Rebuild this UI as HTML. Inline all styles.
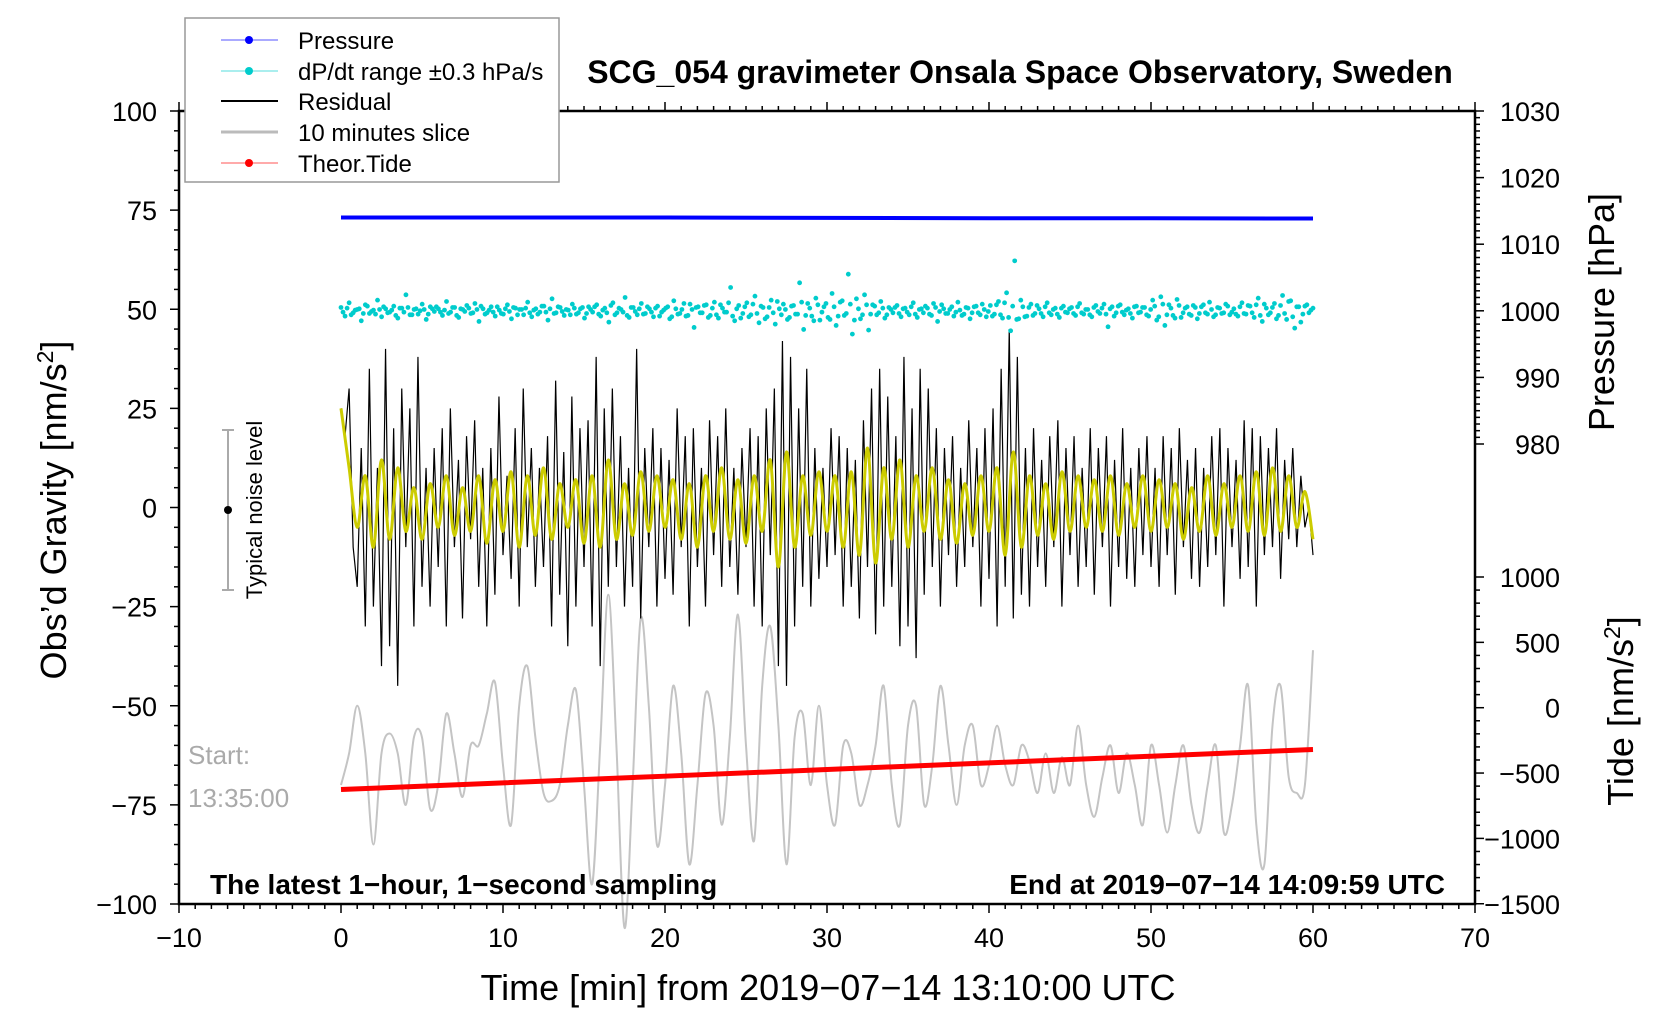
<!DOCTYPE html>
<html><head><meta charset="utf-8"><style>
html,body{margin:0;padding:0;background:#fff}
svg{display:block;font-family:"Liberation Sans",sans-serif}
</style></head><body>
<svg id="chart" width="1676" height="1020" viewBox="0 0 1676 1020" xmlns="http://www.w3.org/2000/svg">
<rect width="1676" height="1020" fill="#fff"/>
<g id="marks"></g>
<g id="axes"></g>
<text x="1020" y="83" font-size="32" font-weight="bold" text-anchor="middle">SCG_054 gravimeter Onsala Space Observatory, Sweden</text>
<text x="828" y="1000" font-size="36" text-anchor="middle">Time [min] from 2019−07−14 13:10:00 UTC</text>
<text transform="translate(66,510) rotate(-90)" font-size="36" text-anchor="middle">Obs’d Gravity [nm/s<tspan font-size="23" dy="-13">2</tspan><tspan dy="13">]</tspan></text>
<text transform="translate(1614,312) rotate(-90)" font-size="36" text-anchor="middle">Pressure [hPa]</text>
<text transform="translate(1633,711) rotate(-90)" font-size="36" text-anchor="middle">Tide [nm/s<tspan font-size="23" dy="-13">2</tspan><tspan dy="13">]</tspan></text>
<text x="188" y="764" font-size="26" fill="#aaa">Start:</text>
<text x="188" y="807" font-size="26" fill="#aaa">13:35:00</text>
<text x="210" y="894" font-size="28" font-weight="bold">The latest 1−hour, 1−second sampling</text>
<text x="1445" y="894" font-size="28" font-weight="bold" text-anchor="end">End at 2019−07−14 14:09:59 UTC</text>
<g>
<line x1="228" y1="430" x2="228" y2="590" stroke="#aaa" stroke-width="2"/>
<line x1="222" y1="430" x2="234" y2="430" stroke="#aaa" stroke-width="2"/>
<line x1="222" y1="590" x2="234" y2="590" stroke="#aaa" stroke-width="2"/>
<circle cx="228" cy="510" r="4" fill="#000"/>
<text transform="translate(262,510) rotate(-90)" font-size="22" text-anchor="middle">Typical noise level</text>
</g>
<g>
<rect x="185" y="18" width="374" height="164" fill="#fff" stroke="#999" stroke-width="1.5"/>
<g><line x1="221" y1="40" x2="278" y2="40" stroke="#55f" stroke-width="1"/><circle cx="249" cy="40" r="4" fill="#00f"/><text x="298" y="49" font-size="24">Pressure</text></g>
<g><line x1="221" y1="71" x2="278" y2="71" stroke="#5dd" stroke-width="1"/><circle cx="249" cy="71" r="4" fill="#0cc"/><text x="298" y="80" font-size="24">dP/dt range ±0.3 hPa/s</text></g>
<g><line x1="221" y1="101" x2="278" y2="101" stroke="#000" stroke-width="2"/><text x="298" y="110" font-size="24">Residual</text></g>
<g><line x1="221" y1="132" x2="278" y2="132" stroke="#bbb" stroke-width="3"/><text x="298" y="141" font-size="24">10 minutes slice</text></g>
<g><line x1="221" y1="163" x2="278" y2="163" stroke="#f55" stroke-width="1"/><circle cx="249" cy="163" r="4" fill="#f00"/><text x="298" y="172" font-size="24">Theor.Tide</text></g>
</g>
</svg>
<script>
// ---- data ----
const pressureVals=[1014.0,1014.0,1014.0,1013.95,1013.9,1013.9,1013.85];
const tideVals=[-626,-575,-524,-473,-422,-371,-320];
const residualVals=[25,18,30,-10,-20,15,-30,35,-25,10,-40,40,-35,20,-45,30,-10,25,-30,38,
-20,10,-25,15,-15,20,-30,25,-10,12,-28,18,-8,22,-20,10,-30,15,-22,28,
-12,8,-18,20,-25,30,-10,15,-20,10,-15,18,-30,32,-22,14,-35,28,-25,20,
-15,22,-30,38,-40,25,-20,30,-15,18,-25,10,-20,40,-28,15,-10,20,-25,15,
-18,12,-22,25,-10,18,-30,20,-15,10,-25,22,-12,18,-20,25,-15,10,-22,15,
-10,20,-25,18,-30,25,-12,30,-40,42,-45,38,-30,25,-20,35,-25,15,-18,10,
-15,20,-12,18,-25,15,-20,12,-28,22,-15,30,-32,35,-25,28,-20,18,-35,38,
-30,25,-38,35,-22,30,-15,20,-25,15,-12,18,-20,10,-15,22,-10,15,-25,20,
-18,25,-30,35,-20,45,-28,38,-22,15,-25,20,-15,12,-20,18,-10,22,-25,15,
-12,18,-20,10,-15,20,-22,15,-10,18,-25,12,-15,20,-18,10,-20,15,-12,18,
-15,10,-20,18,-12,15,-22,20,-10,12,-18,15,-20,10,-15,18,-12,20,-25,15,
-10,12,-18,22,-15,20,-25,18,-12,15,-10,20,-18,12,-8,15,-10,8,-5,0,-12];
const smoothVals=[25,10,-5,8,-10,12,-8,10,-6,5,-8,6,-5,8,-7,5,-6,8,-9,7,
-6,9,-10,8,-7,10,-8,6,-5,7,-9,8,-10,12,-8,6,-7,9,-6,8,
-5,7,-8,6,-10,8,-6,10,-8,7,-9,8,-6,12,-15,14,-10,8,-7,9,
-6,8,-10,9,-12,15,-14,10,-8,12,-10,8,-6,10,-8,7,-9,6,-7,8,
-6,10,-12,14,-10,8,-7,6,-8,9,-6,8,-5,7,-6,8,-7,6,-5,8,
-6,7,-5,6,-8,5,-6,8,-7,6,-5,8,-6,9,-7,10,-6,8,-5,4,-8];
const sliceVals=[-70,-62,-50,-62,-85,-62,-57,-62,-75,-58,-58,-76,-70,-52,-62,-73,-60,-60,-52,-44,
-65,-80,-50,-40,-58,-72,-74,-70,-55,-46,-70,-95,-60,-22,-60,-106,-70,-28,-50,-85,
-70,-45,-62,-90,-70,-47,-55,-80,-58,-27,-60,-84,-45,-30,-55,-90,-58,-52,-70,-50,
-70,-80,-60,-62,-75,-70,-60,-45,-70,-80,-55,-50,-75,-65,-45,-60,-75,-60,-55,-70,
-65,-55,-65,-70,-60,-64,-72,-62,-72,-63,-70,-55,-70,-78,-68,-60,-72,-62,-70,-80,
-60,-70,-82,-70,-60,-75,-82,-70,-60,-82,-75,-60,-45,-80,-90,-55,-45,-68,-72,-70,-36];
const dpdtVals=[0.5,-0.8,1.2,-0.3,0.2,-1.5,0.9,-0.4,0.1,1.6,-0.9,0.3,-0.2,0.7,-1.1,0.4,2.4,-0.6,0.2,-0.5,
1.0,-1.3,0.6,-0.1,0.3,-0.7,1.4,-0.2,0.5,-1.0,0.2,0.8,-0.4,1.1,-1.6,0.3,-0.3,0.6,-0.8,0.1,
-0.5,0.9,-1.2,0.4,0.2,-0.6,1.3,-0.9,0.3,-0.2,0.7,-1.4,1.8,-0.3,0.5,-0.7,0.1,1.0,-0.5,0.3,
-1.1,0.6,-0.2,0.9,-0.8,0.4,-1.7,1.2,-0.3,0.2,2.0,-1.0,0.5,-0.6,1.1,-0.4,0.3,-0.9,0.7,-0.2,
0.4,-1.2,1.5,-0.5,0.2,-0.8,1.0,-2.5,0.6,-0.3,0.9,-0.7,1.3,-1.1,0.4,-0.2,3.5,-1.5,0.8,-0.4,
1.2,-0.6,2.2,-1.8,0.5,-0.9,1.6,-2.0,0.3,1.0,-1.3,0.7,-0.5,4.2,-2.8,1.1,-0.8,1.9,-1.4,0.6,
-1.0,2.6,-2.2,1.3,-0.7,5.5,-3.5,1.8,-1.2,2.4,-2.9,0.9,-0.6,1.4,-1.1,0.5,-0.3,0.8,-0.9,0.4,
-0.6,1.2,-1.0,0.3,0.7,-0.5,1.1,-1.6,0.9,-0.4,0.2,-0.8,1.3,-0.7,0.5,-1.2,0.6,-0.3,1.0,-0.9,
0.8,-0.5,1.4,-1.1,2.7,-3.0,7.5,-1.2,0.6,-0.8,1.0,-0.4,0.3,-0.9,1.2,-0.6,0.4,-1.0,0.7,-0.3,
0.5,-0.7,1.1,-0.5,0.2,-0.9,0.8,-0.4,1.0,-2.4,0.6,-0.3,0.9,-0.6,0.3,-1.1,0.7,-0.2,0.5,-0.8,
1.6,-1.4,2.1,-2.2,0.9,-0.7,1.7,-1.0,0.4,-0.5,0.8,-1.2,0.6,-0.3,1.3,-0.9,0.5,-0.4,1.0,-0.6,
0.3,-0.8,1.2,-0.5,0.7,-1.0,1.9,-1.6,0.4,-0.3,1.1,-0.7,2.3,-1.3,1.5,-2.6,0.6,-0.5,0.9,0.1];
const dpdtVals2=[-0.2,0.4,-0.6,0.1,0.3,-0.4,0.7,-0.1,-0.5,0.2,0.6,-0.3,0.1,-0.7,0.4,-0.2,0.5,-0.6,0.3,0.0,
0.2,-0.5,0.3,0.6,-0.2,0.1,-0.4,0.5,-0.7,0.3,-0.1,0.4,-0.3,0.2,0.7,-0.5,0.1,-0.2,0.6,-0.4,
0.3,-0.1,0.5,-0.6,0.2,0.4,-0.3,0.1,-0.5,0.7,-0.2,0.3,-0.4,0.6,-0.1,0.2,-0.6,0.4,-0.3,0.5,
-0.4,0.2,0.6,-0.5,0.1,-0.3,0.8,-0.6,0.4,-0.2,-0.7,0.5,-0.1,0.3,-0.5,0.6,-0.2,0.4,-0.8,0.1,
0.6,-0.9,0.3,-0.4,1.1,-0.7,0.2,0.5,-0.3,0.8,-1.0,0.4,-0.6,0.9,-0.2,1.2,-0.8,0.3,-1.1,0.6,
-0.9,1.0,-0.4,0.7,-1.2,0.5,-0.3,1.4,-0.6,0.2,-1.0,0.8,-0.5,1.3,-0.7,0.4,-1.5,0.9,-0.2,1.1,
-1.3,0.6,-0.8,1.5,-0.4,1.0,-1.4,0.3,-0.6,0.9,-0.5,0.7,-0.3,0.4,-0.6,0.2,0.5,-0.4,0.3,-0.2,
0.6,-0.5,0.2,-0.3,0.4,-0.7,0.5,-0.1,0.3,-0.4,0.6,-0.2,0.1,-0.5,0.4,-0.3,0.7,-0.6,0.2,-0.1,
-0.8,0.9,-0.6,1.2,-1.0,0.7,-1.3,1.6,-0.9,0.5,-0.7,0.8,-0.4,0.6,-0.3,0.2,-0.5,0.4,-0.2,0.3,
-0.4,0.6,-0.3,0.2,-0.6,0.5,-0.1,0.4,-0.5,0.3,-0.8,0.7,-0.2,0.1,-0.4,0.6,-0.3,0.5,-0.6,0.2,
0.7,-0.9,1.0,-0.6,0.4,-1.1,0.8,-0.3,0.6,-0.7,0.5,-0.4,0.9,-0.5,0.2,-0.6,0.4,-0.3,0.7,-0.2,
-0.5,0.6,-0.4,0.8,-0.3,0.9,-0.7,1.0,-0.6,0.5,-1.2,0.8,-0.4,1.4,-0.9,0.6,-1.7,0.7,-0.3,0.4];
const xTicks=[-10,0,10,20,30,40,50,60,70];
const yTicks=[100,75,50,25,0,-25,-50,-75,-100];
const pTicks=[1030,1020,1010,1000,990,980];
const tTicks=[1000,500,0,-500,-1000,-1500];
// ---- scales ----
const L=179,R=1475,T=111,B=904;
const X=t=>L+(t+10)*(R-L)/80;
const Y=v=>(T+B)/2-v*(B-T)/200;
const P=p=>T+(1030-p)*6.66;
const TD=v=>707.7-v*0.1307;
const NS="http://www.w3.org/2000/svg";
const marks=document.getElementById('marks'), axes=document.getElementById('axes');
function mk(tag,attrs,parent){const e=document.createElementNS(NS,tag);for(const k in attrs)e.setAttribute(k,attrs[k]);parent.appendChild(e);return e;}
function pts(arr,step,f){return arr.map((v,i)=>[X(i*step),f(v)]);}
function smoothPath(p){let d='M'+p[0][0]+','+p[0][1];for(let i=0;i<p.length-1;i++){const p0=p[Math.max(i-1,0)],p1=p[i],p2=p[i+1],p3=p[Math.min(i+2,p.length-1)];
d+=' C'+(p1[0]+(p2[0]-p0[0])/6)+','+(p1[1]+(p2[1]-p0[1])/6)+' '+(p2[0]-(p3[0]-p1[0])/6)+','+(p2[1]-(p3[1]-p1[1])/6)+' '+p2[0]+','+p2[1];}return d;}
const sl=mk('path',{d:smoothPath(pts(sliceVals,60/(sliceVals.length-1),Y)),fill:'none',stroke:'#c4c4c4','stroke-width':2},marks);


const td=mk('polyline',{points:pts(tideVals,10,TD).join(' '),fill:'none',stroke:'#f00','stroke-width':5},marks);


const rs=mk('polyline',{points:pts(residualVals,60/(residualVals.length-1),Y).join(' '),fill:'none',stroke:'#000','stroke-width':1.2},marks);


const sm=mk('path',{d:smoothPath(pts(smoothVals,60/(smoothVals.length-1),Y)),fill:'none',stroke:'#cccc00','stroke-width':3},marks);


[dpdtVals,dpdtVals2].forEach((arr,k)=>arr.forEach((v,i)=>{const c=mk('circle',{cx:X((i+k*0.5)*60/(arr.length-0.5)),cy:P(1000+v),r:2.4,fill:'#0cc'},marks);

}));
const pr=mk('polyline',{points:pts(pressureVals,10,P).join(' '),fill:'none',stroke:'#00f','stroke-width':4},marks);


const fr=mk('rect',{x:L,y:T,width:R-L,height:B-T,fill:'none',stroke:'#000','stroke-width':2.5},axes);


function tick(x1,y1,x2,y2,w){mk('line',{x1,y1,x2,y2,stroke:'#000','stroke-width':w},axes);}
for(let t=-10;t<=70;t++){const x=X(t),maj=t%10===0;tick(x,B,x,B+(maj?9:5),1.5);tick(x,T,x,T-(maj?9:5),1.5);}
for(let v=-100;v<=100;v+=5){tick(L,Y(v),L-(v%25===0?9:5),Y(v),1.5);}
for(let p=980;p<=1030;p++){tick(R,P(p),R+(p%10===0?9:5),P(p),1.5);}
for(let v=-1500;v<=1000;v+=100){tick(R,TD(v),R+(v%500===0?9:5),TD(v),1.5);}
xTicks.forEach(t=>{const e=mk('text',{x:X(t),y:B+43,'font-size':27,'text-anchor':'middle'},axes);e.textContent=String(t).replace('-','−');

});
yTicks.forEach(v=>{const e=mk('text',{x:L-22,y:Y(v)+10,'font-size':27,'text-anchor':'end'},axes);e.textContent=String(v).replace('-','−');

});
pTicks.forEach(p=>{const e=mk('text',{x:R+85,y:P(p)+10,'font-size':27,'text-anchor':'end'},axes);e.textContent=p;

});
tTicks.forEach(v=>{const e=mk('text',{x:R+85,y:TD(v)+10,'font-size':27,'text-anchor':'end'},axes);e.textContent=String(v).replace('-','−');

});
</script>
</body></html>
